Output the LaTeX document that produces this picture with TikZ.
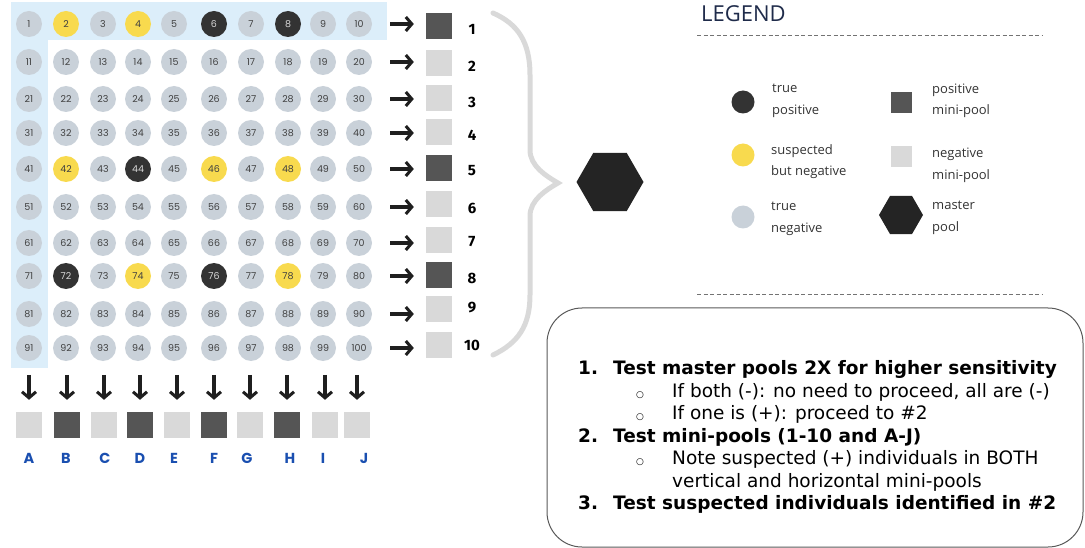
\documentclass[tikz,border=0pt]{standalone}
\usepackage{fontspec}
\setmainfont{DejaVu Sans}
\newfontfamily\legfont{Open Sans}
\newfontfamily\popfont{Poppins}
\newfontfamily\firafont{Fira Sans}
\usepackage{tikz}
\usetikzlibrary{arrows.meta,shapes.geometric}
\usetikzlibrary{positioning}
\definecolor{band}{HTML}{DCEEFA}
\definecolor{negwell}{HTML}{C9D1D9}
\definecolor{suswell}{HTML}{F8DA4E}
\definecolor{poswell}{HTML}{333333}
\definecolor{hitgray}{HTML}{555555}
\definecolor{missgray}{HTML}{D9D9D9}
\definecolor{letterblue}{HTML}{1A4FB0}
\definecolor{navy}{HTML}{1F2B4A}
\tikzset{
    well/.style={
           circle,
           fill=negwell,
           minimum size=26pt,
           inner sep=0pt,
           text=black!75,
           font=\popfont\fontsize{9.5}{10}\selectfont,
           },
    suspect/.style={fill=suswell},
    truepos/.style={fill=poswell, text=white!85!black},
    mini/.style={
           rectangle,
           fill=missgray,
           minimum size=26pt,
           inner sep=0pt,
           },
    hitpool/.style={fill=hitgray},
    c2/.style={suspect}, c4/.style={suspect}, c42/.style={suspect},
    c46/.style={suspect}, c48/.style={suspect}, c74/.style={suspect},
    c78/.style={suspect},
    c6/.style={truepos}, c8/.style={truepos}, c44/.style={truepos},
    c72/.style={truepos}, c76/.style={truepos},
    r1/.style={hitpool}, r5/.style={hitpool}, r8/.style={hitpool},
    qB/.style={hitpool}, qD/.style={hitpool}, qF/.style={hitpool},
    qH/.style={hitpool},
    rownum/.style={font=\firafont\bfseries\fontsize{15}{16}\selectfont, inner sep=0pt},
    colname/.style={font=\popfont\bfseries\fontsize{14.5}{15}\selectfont, text=letterblue, inner sep=0pt},
    poolarrow/.style={-{Straight Barb[length=6pt,width=14pt,line width=3pt]}, line width=3.2pt, black!88},
    hexa/.style={regular polygon, regular polygon sides=6, fill=black!86, inner sep=0pt},
    legtext/.style={font=\legfont\fontsize{13}{21.5}\selectfont, text=black!80, align=left, anchor=west, inner sep=0pt},
    legline/.style={draw=black!55, line width=0.8pt, dash pattern=on 4pt off 2.5pt},
}
\newcommand{\opendot}{{\fontsize{9}{9}\selectfont ○}}

\begin{document}
\begin{tikzpicture}[x=1pt,y=-1pt]
 \useasboundingbox (0,0) rectangle (1085,548);

 \fill[band] (11,2) rectangle (387,40);
 \fill[band] (11,40) rectangle (48,368);

 \foreach \y [count=\row] in {24,62,99,133,169,207,243,276,314,348}{
   \foreach \x [count=\col] in {29,66,103,138,174,214,251,288,323,359}{
     \pgfmathtruncatemacro{\n}{10*(\row-1)+\col}
     \node[well, c\n/.try] (C\n) at (\x,\y) {\n};
   }
 }

 \foreach \y/\ly [count=\i] in {26/29,63/66,98/102,132/135,168/171,204/208,240/242,275/278,309/308,345/345}{
   \pgfmathtruncatemacro{\last}{10*\i}
   \node[mini, r\i/.try] (ROW\i) at (439,\y) {};
   \node[rownum] (ROWNUM\i) at (472,\ly) {\i};
   \draw[poolarrow] ([xshift=18pt]C\last.east) -- ([xshift=-12pt]ROW\i.west |- C\last.east);
 }

 \foreach \x/\lx/\l in {29/29/A,67/66/B,104/105/C,140/140/D,177/174/E,214/214/F,250/247/G,287/290/H,325/323/I,357/364/J}{
   \node[mini, q\l/.try] (COL\l) at (\x,425) {};
   \node[colname] (LAB\l) at (\lx,458) {\l};
   \draw[poolarrow] ([yshift=37pt]COL\l.north) -- ([yshift=12pt]COL\l.north);
 }

 \draw[draw=missgray, line width=5pt, line cap=round]
   (493,13) .. controls (518,24) and (530,42) .. (530,75) -- (530,150)
   .. controls (530,166) and (546,176) .. (558,183)
   .. controls (546,190) and (530,200) .. (530,216) -- (530,295)
   .. controls (530,326) and (518,343) .. (493,355);

 \node[hexa, minimum size=67pt] (MASTER) at (610,182) {};

 \node[font=\legfont\fontsize{22}{24}\selectfont, text=navy, anchor=west, inner sep=0pt] (LEGEND) at (701,14) {LEGEND};
 \draw[legline] (697,35) -- (1042,35);
 \draw[legline] (697,294) -- (1042,294);

 \node[circle, fill=poswell, minimum size=23pt, inner sep=0pt] (KEYTP) at (743,102) {};
 \node[legtext] at (772,101) {true\\positive};
 \node[circle, fill=suswell, minimum size=23pt, inner sep=0pt] (KEYSUS) at (743,155) {};
 \node[legtext] at (771,161.5) {suspected\\but negative};
 \node[circle, fill=negwell, minimum size=23pt, inner sep=0pt] (KEYTN) at (743,217) {};
 \node[legtext] at (771,219) {true\\negative};
 \node[mini, hitpool, minimum size=21pt] (KEYPOS) at (901,103) {};
 \node[legtext] at (932,101) {positive\\mini-pool};
 \node[mini, minimum size=21pt] (KEYNEG) at (901,157) {};
 \node[legtext] at (932,165.5) {negative\\mini-pool};
 \node[hexa, minimum size=44pt] (KEYMASTER) at (901,215) {};
 \node[legtext] at (932,218) {master\\pool};

 \draw[draw=black!65, line width=1pt, rounded corners=35pt] (547,308) rectangle (1083,547);

 \node[anchor=north west, inner sep=0pt, font=\fontsize{18.5}{22.5}\selectfont] (STEPS) at (578,359)
 {\begin{tabular}{@{}p{35pt}@{}p{23pt}@{}p{36pt}@{}l@{}}
   \textbf{1.} & \multicolumn{3}{@{}l@{}}{\textbf{Test master pools 2X for higher sensitivity}}\\
   & & \opendot & If both (-): no need to proceed, all are (-)\\
   & & \opendot & If one is (+): proceed to \#2\\
   \textbf{2.} & \multicolumn{3}{@{}l@{}}{\textbf{Test mini-pools (1-10 and A-J)}}\\
   & & \opendot & Note suspected (+) individuals in BOTH\\
   & & & vertical and horizontal mini-pools\\
   \textbf{3.} & \multicolumn{3}{@{}l@{}}{\textbf{Test suspected individuals identified in \#2}}
  \end{tabular}};
\end{tikzpicture}
\end{document}
